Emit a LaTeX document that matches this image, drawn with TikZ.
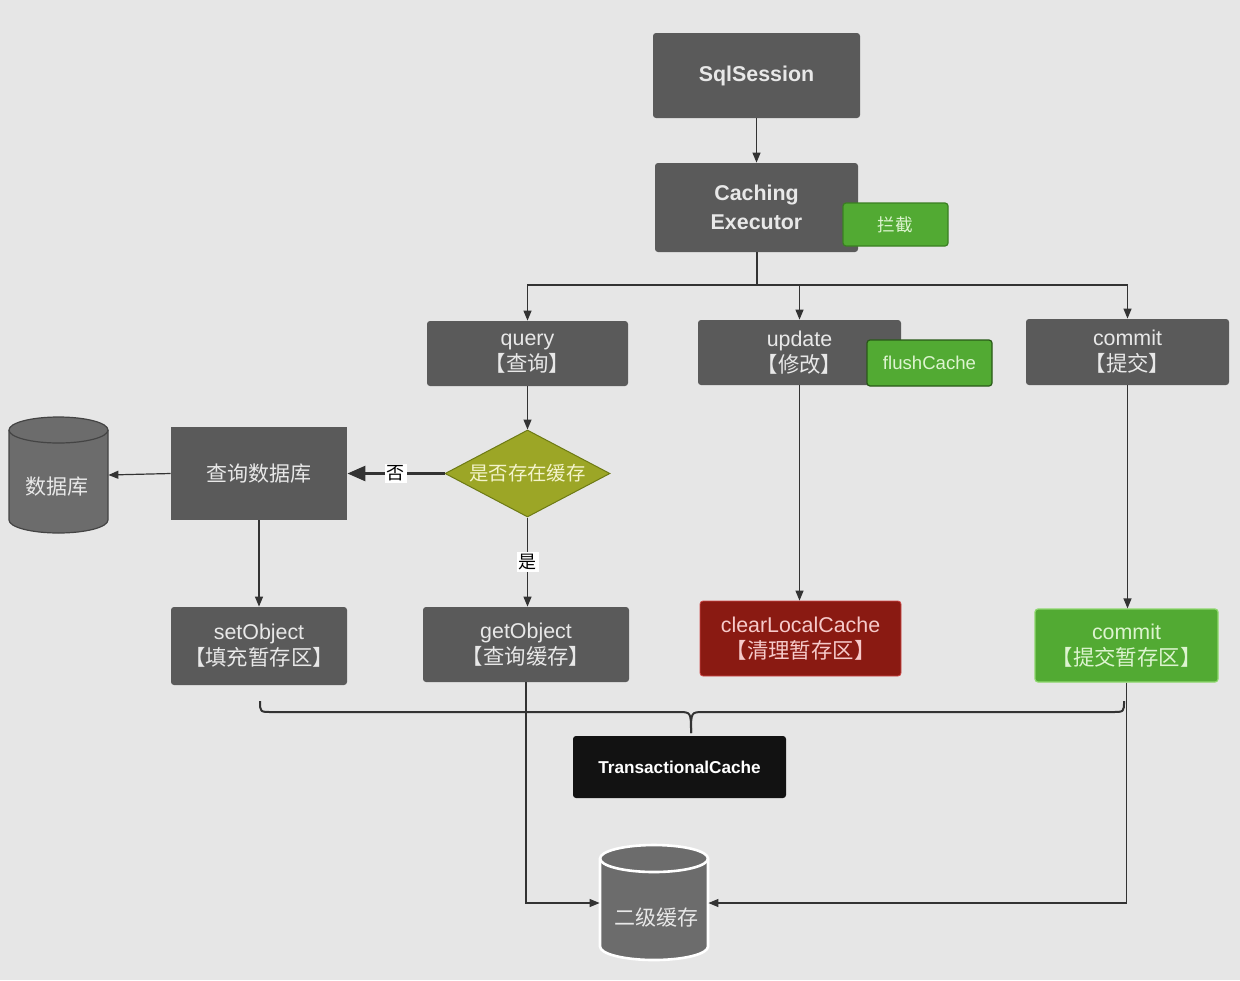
\documentclass[tikz,border=0pt]{standalone}
\usepackage{fontspec}
\setmainfont{Liberation Sans}
\newfontfamily\cjk{Noto Sans CJK SC}
\usetikzlibrary{arrows.meta,shapes.geometric}
\definecolor{bgc}{HTML}{E6E6E6}
\definecolor{boxgray}{HTML}{5A5A5A}
\definecolor{boxtext}{HTML}{E8E8E8}
\definecolor{linec}{HTML}{333333}
\definecolor{grn}{HTML}{52AA33}
\definecolor{grnborder}{HTML}{3A7F22}
\definecolor{grntext}{HTML}{DDF4D0}
\definecolor{grnlight}{HTML}{8ED86E}
\definecolor{redbox}{HTML}{8A1A12}
\definecolor{redborder}{HTML}{D04848}
\definecolor{redtext}{HTML}{F6CACA}
\definecolor{olive}{HTML}{9CA626}
\definecolor{oliveborder}{HTML}{6D7A14}
\definecolor{olivetext}{HTML}{F4F4CC}
\definecolor{cylfill}{HTML}{6C6C6C}
\definecolor{cyldraw}{HTML}{444444}
\begin{document}
\begin{tikzpicture}[x=0.5pt,y=-0.5pt,
  font=\fontsize{10.7}{13}\selectfont,
  sz/.style 2 args={minimum width=#1*0.5pt, minimum height=#2*0.5pt},
  box/.style={rectangle, rounded corners=1.5pt, fill=boxgray, text=boxtext, align=center, inner sep=0pt},
  greenbox/.style={rectangle, rounded corners=1.5pt, fill=grn, draw=grnborder, line width=0.6pt, text=grntext, align=center, inner sep=0pt},
  arr/.style={draw=linec, line width=0.6pt, -{Triangle[length=5pt,width=4pt]}},
  plain/.style={draw=linec, line width=0.6pt},
  lbl/.style={fill=white, inner sep=1pt, font=\cjk\fontsize{9}{10}\selectfont, text=black},
  cyltext/.style={text=boxtext, font=\cjk\fontsize{10.5}{12}\selectfont},
  anchorbox/.style={rectangle, inner sep=0pt},
]
\fill[bgc] (0,0) rectangle (1240,980);
\useasboundingbox (0,0) rectangle (1240,980);

% top
\node[box, sz={207}{85}, font=\fontsize{10.7}{13}\selectfont\bfseries] (sql) at (756.5,75.5) {SqlSession};
\node[box, sz={203}{89}, font=\fontsize{10.7}{14.5}\selectfont\bfseries] (exec) at (756.5,207.5) {Caching\\Executor};
\node[greenbox, sz={105}{43}, font=\cjk\fontsize{8.8}{10}\selectfont] (lanjie) at (895.5,224.5) {拦截};

% second row
\node[box, sz={201}{65}] (query) at (527.5,353.5) {query\\{\cjk 【查询】}};
\node[box, sz={203}{65}] (update) at (799.5,352.5) {update\\{\cjk 【修改】}};
\node[greenbox, sz={125}{46}, font=\fontsize{9.3}{11}\selectfont, draw=grnborder!70!black] (flush) at (929.5,363) {flushCache};
\node[box, sz={203}{66}] (commitA) at (1127.5,352) {commit\\{\cjk 【提交】}};

% middle
\node[diamond, fill=olive, draw=oliveborder, line width=0.5pt, inner sep=0pt, sz={165}{87}, aspect=1.9, text=olivetext, font=\cjk\fontsize{9.7}{11}\selectfont] (dia) at (527.5,473.5) {是否存在缓存};
\node[rectangle, fill=boxgray, text=boxtext, inner sep=0pt, sz={176}{93}, font=\cjk\fontsize{10.5}{12}\selectfont] (qdb) at (259,473.5) {查询数据库};

% database cylinder
\filldraw[fill=cylfill, draw=cyldraw, line width=0.6pt]
  (9,430) -- (9,520) arc[start angle=180, end angle=360, x radius=24.75pt, y radius=6.5pt]
  -- (108,430) arc[start angle=0, end angle=180, x radius=24.75pt, y radius=6.5pt] -- cycle;
\draw[draw=cyldraw, line width=0.6pt] (9,430) arc[start angle=180, end angle=360, x radius=24.75pt, y radius=6.5pt];
\node[anchorbox, sz={99}{116}] (db) at (58.5,475) {};
\node[cyltext] (dbtext) at (57,487) {数据库};

% lower row
\node[box, sz={176}{78}] (setobj) at (259,646) {setObject\\{\cjk 【填充暂存区】}};
\node[box, sz={206}{75}] (getobj) at (526,644.5) {getObject\\{\cjk 【查询缓存】}};
\node[rectangle, rounded corners=1.5pt, fill=redbox, draw=redborder, line width=0.4pt, text=redtext, align=center, inner sep=0pt, sz={201}{75}] (clear) at (800.5,638.5) {clearLocalCache\\{\cjk 【清理暂存区】}};
\node[greenbox, draw=grnlight, sz={183}{73}] (commitB) at (1126.5,645.5) {commit\\{\cjk 【提交暂存区】}};

% TransactionalCache
\node[rectangle, rounded corners=1.5pt, fill=black!93, text=white, inner sep=0pt, sz={213}{62}, font=\fontsize{8.6}{10}\selectfont\bfseries] (trans) at (679.5,767) {TransactionalCache};

% second level cache cylinder
\filldraw[fill=cylfill, draw=white, line width=1.3pt]
  (600,858.5) -- (600,946.5) arc[start angle=180, end angle=360, x radius=27pt, y radius=6.75pt]
  -- (708,858.5) arc[start angle=0, end angle=180, x radius=27pt, y radius=6.75pt] -- cycle;
\draw[draw=white, line width=1.3pt] (600,858.5) arc[start angle=180, end angle=360, x radius=27pt, y radius=6.75pt];
\node[anchorbox, sz={108}{115}] (cyl) at (654,903) {};
\node[cyltext] (cyltxt) at (656,918) {二级缓存};

% connectors
\draw[arr] (sql.south) -- (exec.north);
\coordinate (split) at (757,285);
\draw[plain] (exec.south -| split) -- (split);
\draw[arr] (split) -| (query.north);
\draw[arr] (split) -| (update.north);
\draw[arr] (split) -| (commitA.north);
\draw[arr] (query.south) -- (dia.north);
\draw[draw=linec, line width=1.3pt, -{Triangle[length=9pt,width=7.5pt]}] (dia.west) -- node[lbl] {否} (qdb.east);
\draw[arr] (dia.south) -- node[lbl, pos=0.5] {是} (dia.south |- getobj.north);
\draw[arr] (qdb.west) -- (db.east);
\draw[arr] (qdb.south) -- (setobj.north);
\draw[arr] (update.south) -- (update.south |- clear.north);
\draw[arr] (commitA.south) -- (commitA.south |- commitB.north);
\draw[arr] (getobj.south) |- (cyl.west);
\draw[arr] (commitB.south) |- (cyl.east);

% brace
\draw[draw=linec, line width=1pt, line join=round]
  (260,701) .. controls (260,712) .. (272,712) -- (678,712) .. controls (691,712) .. (691,733);
\draw[draw=linec, line width=1pt, line join=round]
  (1124,701) .. controls (1124,712) .. (1112,712) -- (704,712) .. controls (691,712) .. (691,733);
\end{tikzpicture}
\end{document}
